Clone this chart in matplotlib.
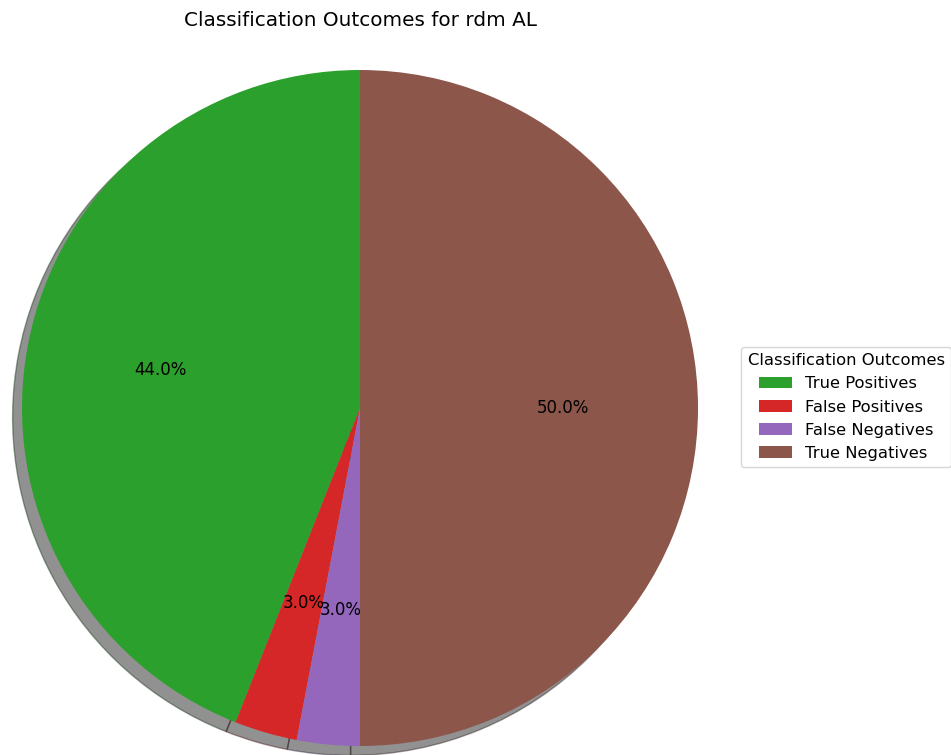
import matplotlib.pyplot as plt

labels = ['True Positives', 'False Positives', 'False Negatives', 'True Negatives']
sizes = [44, 3, 3, 50]
colors = ['tab:green', 'tab:red', 'tab:purple', 'tab:brown']

fig = plt.figure(figsize=(9.51, 7.55), dpi=100)
W, H = 951, 755
cx, cy, r = 360, 408, 338
lim = 1.05
ax = fig.add_axes([(cx - r * lim) / W, (H - cy - r * lim) / H, 2 * r * lim / W, 2 * r * lim / H])

wedges, texts, autotexts = ax.pie(sizes, colors=colors, autopct='%1.1f%%',
                                  startangle=90,
                                  shadow={'facecolor': 'black', 'alpha': 0.43},
                                  textprops={'fontsize': 12})
ax.set_xlim(-lim, lim)
ax.set_ylim(-lim, lim)
ax.set_aspect('equal')

fig.text(cx / W, 1 - 21 / H, 'Classification Outcomes for rdm AL',
         ha='center', va='center', fontsize=14.4)

fig.legend(wedges, labels, title='Classification Outcomes',
           loc='center left', bbox_to_anchor=(733 / W, 1 - 407 / H),
           fontsize=11.8, title_fontsize=11.8)

fig.savefig('out.png', dpi=100)
